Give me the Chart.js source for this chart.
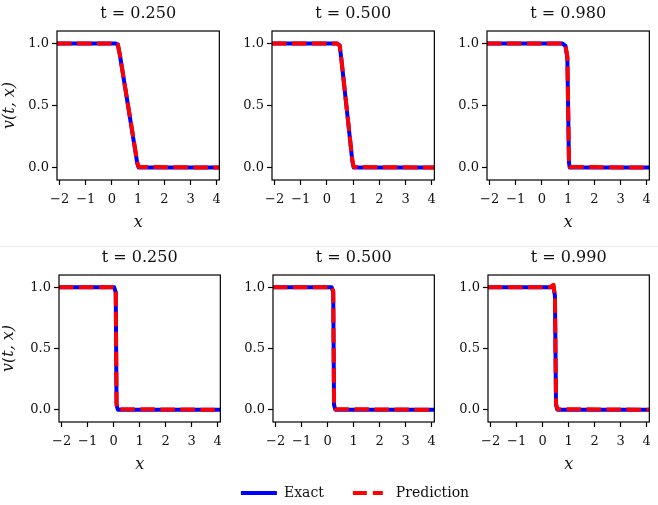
<!DOCTYPE html>
<html>
<head>
<meta charset="utf-8">
<script src="https://cdn.jsdelivr.net/npm/chart.js@4.4.1/dist/chart.umd.min.js"></script>
<style>
  body { margin: 0; width: 658px; height: 505px; background: #fff; overflow: hidden; position: relative; }
  canvas { position: absolute; }
  #sep { position: absolute; left: 0; top: 246px; width: 658px; height: 1px; background: #e9e9e9; }
</style>
</head>
<body>
<div id="sep"></div>
<canvas id="a1" width="228" height="240" style="left:0;top:0"></canvas>
<canvas id="a2" width="228" height="240" style="left:215px;top:0"></canvas>
<canvas id="a3" width="228" height="240" style="left:430px;top:0"></canvas>
<canvas id="b1" width="227" height="238" style="left:2px;top:244px"></canvas>
<canvas id="b2" width="227" height="238" style="left:216px;top:244px"></canvas>
<canvas id="b3" width="227" height="238" style="left:431px;top:244px"></canvas>
<canvas id="lg" width="410" height="150" style="left:150px;top:457px"></canvas>
<script>
/* data */
const xTicks = [-2, -1, 0, 1, 2, 3, 4]
const yTicks = [0, 0.5, 1]
const topTimes = ['0.250', '0.500', '0.980']
const botTimes = ['0.250', '0.500', '0.990']

// top row: ramp between x = t and x = 1
const xA1 = [-2, 0.15, 0.25, 0.33, 0.97, 1.02, 4]
const exactA1 = [1, 1, 0.99, 0.9, 0.03, 0, 0]
const predA1 = [1, 1, 0.99, 0.9, 0.04, 0.005, 0]

const xA2 = [-2, 0.4, 0.5, 0.56, 0.97, 1.02, 4]
const exactA2 = [1, 1, 0.985, 0.88, 0.05, 0, 0]
const predA2 = [1, 1, 0.985, 0.88, 0.06, 0.005, 0]

const xA3 = [-2, 0.78, 0.9, 0.97, 1.03, 1.06, 4]
const exactA3 = [1, 1, 0.98, 0.88, 0.04, 0, 0]
const predA3 = [1, 1, 0.98, 0.9, 0.05, 0.005, 0]

// bottom row: shock at x = t/2
const xB1 = [-2, 0.05, 0.11, 0.14, 0.19, 4]
const exactB1 = [1, 1, 0.96, 0.04, 0, 0]
const predB1 = [1, 1, 0.97, 0.05, 0.005, 0]

const xB2 = [-2, 0.18, 0.24, 0.27, 0.32, 4]
const exactB2 = [1, 1, 0.96, 0.04, 0, 0]
const predB2 = [1, 1, 0.97, 0.05, 0.005, 0]

const xB3 = [-2, 0.3, 0.44, 0.49, 0.53, 0.58, 4]
const exactB3 = [1, 1, 1, 0.93, 0.04, 0, 0]
const predB3 = [1, 1, 1.02, 0.92, 0.05, 0.005, 0]

const colors = {
    blue: '#0000ff',
    red: '#ff0000',
    text: '#111'
}
const serif = 'DejaVu Serif'

// black box around each axes
const frame = {
    id: 'frame',
    afterDatasetsDraw(chart) {
        const a = chart.chartArea
        const ctx = chart.ctx
        ctx.save()
        ctx.strokeStyle = '#000'
        ctx.lineWidth = 1.2
        ctx.strokeRect(a.left, a.top, a.right - a.left, a.bottom - a.top)
        ctx.restore()
    }
}

function pts(xs, vs) {
    return xs.map(function(x, i) { return {x: x, y: vs[i]} })
}

function minus(v) {
    return v < 0 ? '\u2212' + Math.abs(v) : String(v)
}

function panel(id, t, xs, exact, pred, showY, showX, yPad) {
    new Chart(document.getElementById(id), {
        type: 'line',
        data: {
            datasets: [
            {
                label: 'Exact',
                data: pts(xs, exact),
                borderColor: colors.blue,
                borderWidth: 4,
                order: 1
            },
            {
                label: 'Prediction',
                data: pts(xs, pred),
                borderColor: colors.red,
                borderWidth: 4,
                borderDash: [14.5, 5.5],
                order: 0
            }]
        },
        options: {
            responsive: false,
            animation: false,
            events: [],
            layout: { padding: { left: 0, right: 5, top: 0, bottom: 0 } },
            elements: {
                point: { radius: 0 },
                line: { tension: 0, borderJoinStyle: 'round', fill: false }
            },
            scales: {
                // top axis only carries the panel title, centred on the plot area
                top: {
                    type: 'linear', position: 'top',
                    afterFit: function(s) { s.height = 31 },
                    grid: { display: false },
                    border: { display: false },
                    ticks: { display: false },
                    title: { display: true, text: 't = ' + t, color: colors.text,
                        font: { family: serif, size: 16 }, padding: { top: 4, bottom: 0 } }
                },
                x: {
                    type: 'linear', min: -2.1, max: 4.1,
                    afterBuildTicks: function(s) { s.ticks = xTicks.map(function(v) { return {value: v} }) },
                    afterFit: function(s) { s.height = 60 },
                    grid: { drawOnChartArea: false, tickLength: 5, tickColor: '#000', tickWidth: 1.2 },
                    border: { display: false },
                    ticks: { padding: 7, color: colors.text, autoSkip: false, maxRotation: 0,
                        font: { family: serif, size: 13 }, callback: minus },
                    title: { display: showX, text: 'x', color: colors.text,
                        font: { family: serif, size: 16, style: 'italic' }, padding: { top: 0, bottom: 8 } }
                },
                y: {
                    type: 'linear', min: -0.1, max: 1.1,
                    afterBuildTicks: function(s) { s.ticks = yTicks.map(function(v) { return {value: v} }) },
                    afterFit: function(s) { s.width = 57 },
                    grid: { drawOnChartArea: false, tickLength: 5, tickColor: '#000', tickWidth: 1.2 },
                    border: { display: false },
                    ticks: { padding: 3, color: colors.text, font: { family: serif, size: 13 },
                        callback: function(v) { return v.toFixed(1) } },
                    title: { display: showY, text: 'v(t, x)', color: colors.text,
                        font: { family: serif, size: 16, style: 'italic' }, padding: { top: yPad, bottom: 0 } }
                }
            },
            plugins: {
                legend: { display: false },
                tooltip: { enabled: false }
            }
        },
        plugins: [frame]
    })
}

panel('a1', topTimes[0], xA1, exactA1, predA1, true, true, 0)
panel('a2', topTimes[1], xA2, exactA2, predA2, false, false, 0)
panel('a3', topTimes[2], xA3, exactA3, predA3, false, true, 0)
panel('b1', botTimes[0], xB1, exactB1, predB1, true, true, -3)
panel('b2', botTimes[1], xB2, exactB2, predB2, false, false, 0)
panel('b3', botTimes[2], xB3, exactB3, predB3, false, true, 0)

/* shared legend */
new Chart(document.getElementById('lg'), {
    type: 'line',
    data: {
        datasets: [
        { label: 'Exact', data: [], borderColor: colors.blue, borderWidth: 4 },
        { label: 'Prediction', data: [], borderColor: colors.red, borderWidth: 4, borderDash: [14, 6, 10, 20] }]
    },
    options: {
        responsive: false,
        animation: false,
        events: [],
        scales: { x: { display: false }, y: { display: false } },
        plugins: {
            tooltip: { enabled: false },
            legend: {
                display: true,
                position: 'top',
                labels: {
                    usePointStyle: true,
                    pointStyleWidth: 36,
                    boxHeight: 12,
                    padding: 29,
                    color: colors.text,
                    font: { family: serif, size: 14 },
                    generateLabels: function(chart) {
                        return chart.data.datasets.map(function(d, i) {
                            return {
                                text: d.label,
                                fillStyle: d.borderColor,
                                strokeStyle: d.borderColor,
                                lineWidth: d.borderWidth,
                                lineDash: d.borderDash || [],
                                pointStyle: 'line',
                                fontColor: colors.text,
                                hidden: false,
                                datasetIndex: i
                            }
                        })
                    }
                }
            }
        }
    }
})
</script>
</body>
</html>
